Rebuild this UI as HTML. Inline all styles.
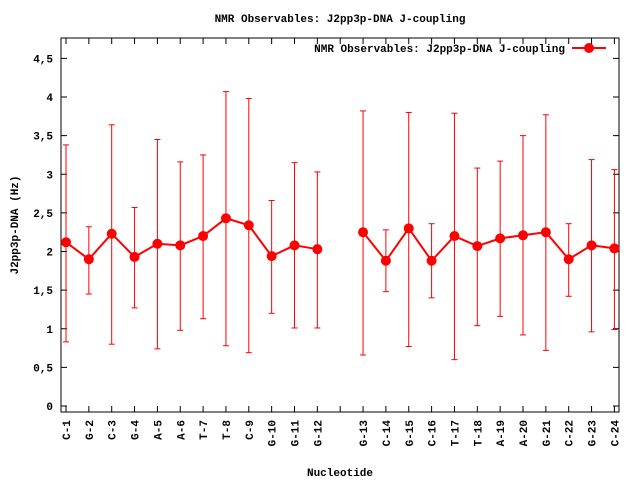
<!DOCTYPE html>
<html><head><style>body{margin:0;background:#fff}svg{display:block}text{font-family:"Liberation Mono",monospace;font-weight:bold;font-size:11px;fill:#000}</style></head>
<body>
<svg id="s" width="640" height="480" xmlns="http://www.w3.org/2000/svg"></svg>
<script>
const d=[["C-1",2.12,0.83,3.38],["G-2",1.90,1.45,2.32],["C-3",2.23,0.80,3.64],["G-4",1.93,1.27,2.57],["A-5",2.10,0.74,3.45],["A-6",2.08,0.98,3.16],["T-7",2.20,1.13,3.25],["T-8",2.43,0.78,4.07],["C-9",2.34,0.69,3.98],["G-10",1.94,1.20,2.66],["G-11",2.08,1.01,3.15],["G-12",2.03,1.01,3.03],null,["G-13",2.25,0.66,3.82],["C-14",1.88,1.48,2.28],["G-15",2.30,0.77,3.80],["C-16",1.88,1.40,2.36],["T-17",2.20,0.60,3.79],["T-18",2.07,1.04,3.08],["A-19",2.17,1.16,3.17],["A-20",2.21,0.92,3.50],["G-21",2.25,0.72,3.77],["C-22",1.90,1.42,2.36],["G-23",2.08,0.96,3.19],["C-24",2.04,0.99,3.06]];
const X=i=>66+i*22.85, Y=v=>406-v*77.25;
const L=61,R=619,T=38,B=412;
let h='';
h+=`<text x="340" y="22" text-anchor="middle">NMR Observables: J2pp3p-DNA J-coupling</text>`;
h+=`<rect x="${L}" y="${T}" width="${R-L}" height="${B-T}" fill="none" stroke="#000" stroke-width="1"/>`;
for(let k=0;k<=9;k++){const v=k*0.5,y=Y(v);
h+=`<line x1="${L}" y1="${y}" x2="${L+6}" y2="${y}" stroke="#000"/><line x1="${R}" y1="${y}" x2="${R-6}" y2="${y}" stroke="#000"/>`;
h+=`<text x="${L-8}" y="${y+4}" text-anchor="end">${k%2?v.toFixed(1).replace('.',','):v}</text>`;}
d.forEach((e,i)=>{const x=X(i);
h+=`<line x1="${x}" y1="${B}" x2="${x}" y2="${B-6}" stroke="#000"/><line x1="${x}" y1="${T}" x2="${x}" y2="${T+6}" stroke="#000"/>`;
if(!e)return;
h+=`<text transform="translate(${x+4},${B+8}) rotate(-90)" text-anchor="end">${e[0]}</text>`;
h+=`<line x1="${x}" y1="${Y(e[2])}" x2="${x}" y2="${Y(e[3])}" stroke="#f00"/><line x1="${x-3}" y1="${Y(e[2])}" x2="${x+3}" y2="${Y(e[2])}" stroke="#f00"/><line x1="${x-3}" y1="${Y(e[3])}" x2="${x+3}" y2="${Y(e[3])}" stroke="#f00"/>`;});
let p1=[],p2=[];d.forEach((e,i)=>{if(e)(i<12?p1:p2).push(X(i)+','+Y(e[1]));});
[p1,p2].forEach(p=>h+=`<polyline points="${p.join(' ')}" fill="none" stroke="#f00" stroke-width="2"/>`);
d.forEach((e,i)=>{if(e)h+=`<circle cx="${X(i)}" cy="${Y(e[1])}" r="5" fill="#f00"/>`;});
h+=`<text x="565" y="52" text-anchor="end">NMR Observables: J2pp3p-DNA J-coupling</text><line x1="572" y1="48" x2="606" y2="48" stroke="#f00" stroke-width="2"/><circle cx="589" cy="48" r="5" fill="#f00"/>`;
h+=`<text transform="translate(18,225) rotate(-90)" text-anchor="middle">J2pp3p-DNA (Hz)</text>`;
h+=`<text x="340" y="476" text-anchor="middle">Nucleotide</text>`;
document.getElementById('s').innerHTML=h;
</script>
</body></html>
